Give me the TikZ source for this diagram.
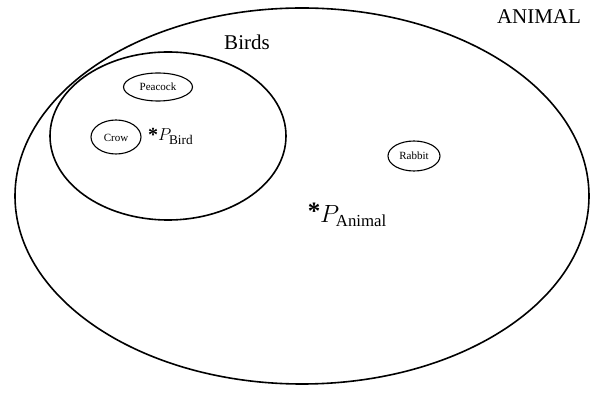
\documentclass[tikz,border=0pt]{standalone}
\usepackage{fontspec}
\setmainfont{Liberation Serif}
\usetikzlibrary{shapes.geometric}
\begin{document}
\begin{tikzpicture}[x=1pt,y=-1pt,
  bigset/.style={draw=black,line width=1.6pt},
  smallset/.style={draw=black,line width=1.1pt},
  elabel/.style={font=\fontsize{11}{12}\selectfont,inner sep=0pt},
  setlabel/.style={font=\fontsize{21}{24}\selectfont,inner sep=0pt},
  starmark/.style={inner sep=0pt,font=\bfseries}]
\useasboundingbox (0,0) rectangle (598,395);
\path[bigset] (302,196) ellipse [x radius=287, y radius=188];
\path[bigset] (168,136) ellipse [x radius=118, y radius=84];
\path[smallset] (158,87) ellipse [x radius=34.5, y radius=14];
\path[smallset] (116,137) ellipse [x radius=25, y radius=17];
\path[smallset] (414,156) ellipse [x radius=26, y radius=15];
\node[elabel] (peacock) at (158,87) {Peacock};
\node[elabel] (crow) at (116,138) {Crow};
\node[elabel] (rabbit) at (414,156) {Rabbit};
\node[setlabel] (animal) at (539,17) {ANIMAL};
\node[setlabel] (birds) at (247,42) {Birds};
\node[starmark,anchor=base,font=\bfseries\fontsize{20}{22}\selectfont] (sbird) at (153,142) {*};
\node[inner sep=0pt,anchor=base west,font=\fontsize{19}{22}\selectfont] (pbird) at (158,141) {$P_{\mathrm{Bird}}$};
\node[starmark,anchor=base,font=\bfseries\fontsize{25}{28}\selectfont] (sanimal) at (314,220) {*};
\node[inner sep=0pt,anchor=base west,font=\fontsize{24}{28}\selectfont] (panimal) at (320,223) {$P_{\mathrm{Animal}}$};
\end{tikzpicture}
\end{document}
